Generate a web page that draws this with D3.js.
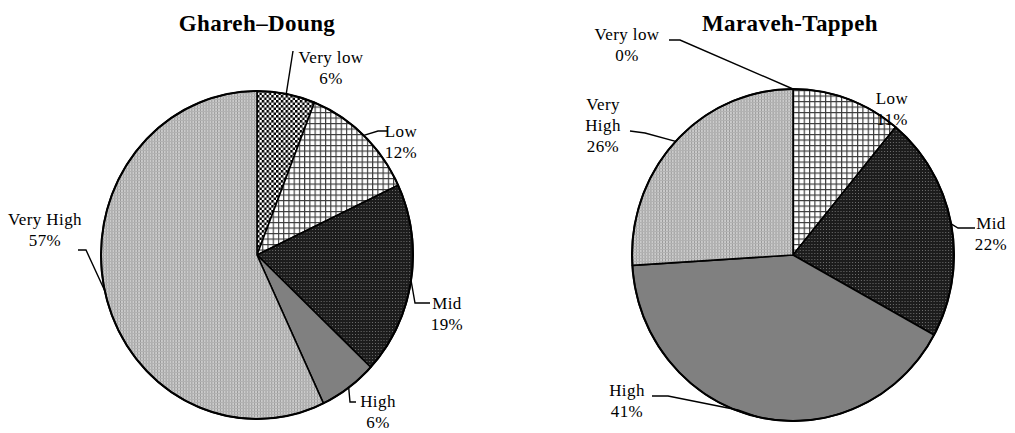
<!DOCTYPE html>
<meta charset="utf-8">
<style>
body { margin: 0; background: #fff; }
svg { display: block; }
.title { font: bold 23px "Liberation Serif", serif; letter-spacing: 0.4px; }
.lbl { font: 17px "Liberation Serif", serif; letter-spacing: 0.4px; }
.leader { fill: none; stroke: #000; stroke-width: 1.4; }
</style>
<svg id="vis" width="1015" height="433"></svg>
<script src="https://cdn.jsdelivr.net/npm/d3@7/dist/d3.min.js"></script>
<script>
// data
var categories = ["Very low", "Low", "Mid", "High", "Very High"];
var gharehDoung = [6, 12, 19, 6, 57];
var maravehTappeh = [0, 11, 22, 41, 26];
var titles = ["Ghareh\u2013Doung", "Maraveh-Tappeh"];

var fills = ["url(#checker)", "url(#grid)", "url(#dots)", "#808080", "url(#fine)"];

var svg = d3.select("#vis");

// patterns (Excel-ish)
var defs = svg.append("defs");
var p = defs.append("pattern").attr("id", "checker").attr("patternUnits", "userSpaceOnUse").attr("width", 5).attr("height", 5);
p.append("rect").attr("width", 5).attr("height", 5).attr("fill", "#fff");
p.append("rect").attr("width", 2.6).attr("height", 2.6).attr("fill", "#000");
p.append("rect").attr("x", 2.5).attr("y", 2.5).attr("width", 2.6).attr("height", 2.6).attr("fill", "#000");

p = defs.append("pattern").attr("id", "grid").attr("patternUnits", "userSpaceOnUse").attr("width", 5.5).attr("height", 5.5);
p.append("rect").attr("width", 5.5).attr("height", 5.5).attr("fill", "#fff");
p.append("path").attr("d", "M0.6,0V5.5M0,0.6H5.5").attr("stroke", "#3a3a3a").attr("stroke-width", 1.2);

p = defs.append("pattern").attr("id", "dots").attr("patternUnits", "userSpaceOnUse").attr("width", 3).attr("height", 3);
p.append("rect").attr("width", 3).attr("height", 3).attr("fill", "#1c1c1c");
p.append("rect").attr("x", 1).attr("y", 1).attr("width", 1).attr("height", 1).attr("fill", "#707070");

p = defs.append("pattern").attr("id", "fine").attr("patternUnits", "userSpaceOnUse").attr("width", 3).attr("height", 3);
p.append("rect").attr("width", 3).attr("height", 3).attr("fill", "#cbcbcb");
p.append("path").attr("d", "M0.5,0V3").attr("stroke", "#989898").attr("stroke-width", 1);
p.append("path").attr("d", "M0,0.5H3").attr("stroke", "#b2b2b2").attr("stroke-width", 1);

// layout: pie centre / radii, title spot, label spots and leader elbows
var charts = [
  { values: gharehDoung, title: titles[0], cx: 257, cy: 255, rx: 156, ry: 164, tx: 257, ty: 31,
    labels: [
      { x: 331, y: 63, lines: ["Very low"], leader: [[293, 51]] },
      { x: 401, y: 137, lines: ["Low"], leader: [[378, 131], [388, 131]] },
      { x: 447, y: 309, lines: ["Mid"], leader: [[415, 303], [430, 303]] },
      { x: 378, y: 407, lines: ["High"], leader: [[350, 402], [356, 402]] },
      { x: 45, y: 225, lines: ["Very High"], leader: [[86, 250], [78, 250]] }
    ] },
  { values: maravehTappeh, title: titles[1], cx: 793, cy: 255, rx: 161, ry: 166, tx: 790, ty: 31,
    labels: [
      { x: 627, y: 40, lines: ["Very low"], leader: [[680, 40], [669, 40]] },
      { x: 892, y: 104, lines: ["Low"], leader: null },
      { x: 991, y: 229, lines: ["Mid"], leader: [[958, 228], [975, 228]] },
      { x: 627, y: 396, lines: ["High"], leader: [[738, 410], [668, 396], [652, 396]] },
      { x: 603, y: 110, lines: ["Very", "High"], leader: [[645, 133], [630, 131]] }
    ] }
];

var pie = d3.pie().sort(null).value(function(d) { return d; });
var lineGen = d3.line().curve(d3.curveLinear);

charts.forEach(function(c) {
  svg.append("text").attr("class", "title")
    .attr("x", c.tx).attr("y", c.ty)
    .attr("text-anchor", "middle")
    .text(c.title);

  var r = c.ry;
  var arc = d3.arc().innerRadius(0).outerRadius(r);
  var g = svg.append("g")
    .attr("transform", "translate(" + c.cx + "," + c.cy + ") scale(" + (c.rx / c.ry) + ",1)");

  var slices = pie(c.values);

  g.selectAll("path.slice")
    .data(slices)
    .enter().append("path")
      .attr("class", "slice")
      .attr("d", arc)
      .attr("fill", function(d, i) { return fills[i]; })
      .attr("stroke", "#000")
      .attr("stroke-width", 1.6)
      .attr("stroke-linejoin", "round")
      .attr("vector-effect", "non-scaling-stroke");

  g.append("circle")
    .attr("r", r)
    .attr("fill", "none")
    .attr("stroke", "#000")
    .attr("stroke-width", 2)
    .attr("vector-effect", "non-scaling-stroke");

  // labels
  slices.forEach(function(s, i) {
    var L = c.labels[i];
    var mid = (s.startAngle + s.endAngle) / 2;
    var ax = c.cx + c.rx * Math.sin(mid), ay = c.cy - c.ry * Math.cos(mid);
    if (L.leader) {
      svg.append("path").attr("class", "leader")
        .attr("d", lineGen([[ax, ay]].concat(L.leader)));
    }
    var t = svg.append("text").attr("class", "lbl")
      .attr("x", L.x).attr("y", L.y)
      .attr("text-anchor", "middle");
    var lines = L.lines.concat([s.data + "%"]);
    lines.forEach(function(line, k) {
      t.append("tspan").attr("x", L.x).attr("dy", k === 0 ? 0 : 21).text(line);
    });
  });
});
</script>
